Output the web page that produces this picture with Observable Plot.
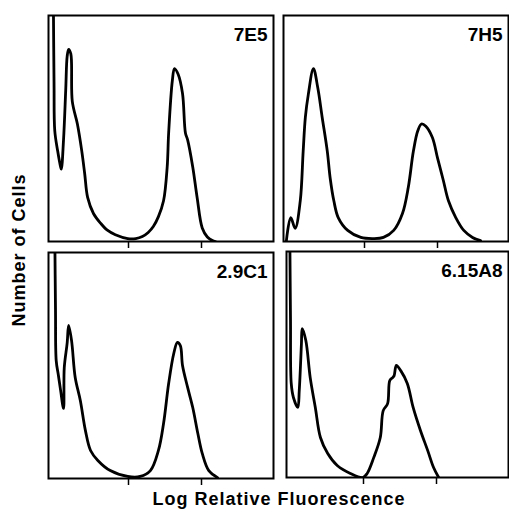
<!DOCTYPE html>
<html><head><meta charset="utf-8">
<script src="https://cdn.jsdelivr.net/npm/d3@7"></script>
<script src="https://cdn.jsdelivr.net/npm/@observablehq/plot@0.6"></script>
<style>
html,body{margin:0;padding:0;background:#fff;}
#chart{position:relative;width:509px;height:514px;overflow:hidden;font-family:"Liberation Sans",Arial,Helvetica,sans-serif;color:#000;}
.panel{position:absolute;}
.ytitle{position:absolute;left:19px;top:250px;transform:translate(-50%,-50%) rotate(-90deg);font-weight:bold;font-size:18px;letter-spacing:1px;white-space:nowrap;line-height:18px;}
.xtitle{position:absolute;left:279px;top:490px;transform:translateX(-50%);font-weight:bold;font-size:18px;letter-spacing:1px;white-space:nowrap;line-height:18px;}
</style>
</head><body>
<div id="chart"></div>
<script>
// ---- data (x = log relative fluorescence, decades; y = relative number of cells, % of full scale) ----
const panelLabels = ["7E5", "7H5", "2.9C1", "6.15A8"];
const xTicks = [1, 2];
const yTitle = "Number of Cells";
const xTitle = "Log Relative Fluorescence";

const hist7E5 = [[-0.03,110],[-0.02,70],[-0.01,49],[0.03,40],[0.07,33],[0.08,32],[0.11,45],[0.14,67],[0.16,82],[0.18,85],[0.21,83],[0.23,62],[0.30,52],[0.36,40],[0.40,30],[0.44,19.5],[0.52,12.4],[0.62,8],[0.71,5],[0.82,3],[0.99,1.3],[1.10,1.3],[1.19,2.2],[1.27,4],[1.34,6.6],[1.41,11],[1.48,18],[1.53,33],[1.55,48],[1.60,71],[1.63,76.5],[1.68,74],[1.74,65.5],[1.78,48],[1.81,45],[1.88,33],[1.94,19.5],[2.01,6],[2.08,2],[2.15,0.4],[2.19,0]];
const hist7H5 = [[-0.07,0.4],[-0.01,10.6],[0.05,5.8],[0.12,18],[0.16,40],[0.19,55],[0.23,65],[0.30,76.5],[0.36,68],[0.42,55],[0.49,40],[0.53,28],[0.58,18],[0.64,10.6],[0.77,4.9],[0.95,1.8],[1.12,1.3],[1.26,1.8],[1.40,4.9],[1.52,12.4],[1.60,24],[1.67,40],[1.73,49],[1.78,52],[1.84,51],[1.93,46],[2.00,37],[2.08,27],[2.15,18],[2.25,10.6],[2.36,4.9],[2.48,1.8],[2.59,0.4]];
const hist2_9C1 = [[-0.01,110],[0.0,75],[0.01,52],[0.04,45.6],[0.07,39],[0.11,31],[0.12,49],[0.16,60],[0.18,67.7],[0.22,61],[0.27,44.7],[0.34,34.5],[0.41,21.2],[0.48,12.4],[0.58,8],[0.75,3.5],[0.99,0.9],[1.16,0.9],[1.30,3.5],[1.41,12.4],[1.48,24.3],[1.55,42],[1.62,55.3],[1.67,60.2],[1.71,58.8],[1.74,50],[1.81,40.3],[1.88,31.4],[1.95,19.9],[2.01,11.1],[2.10,3.5],[2.22,0.4]];
const hist6_15A8 = [[-0.01,110],[0.0,70],[0.01,41.6],[0.04,35.4],[0.10,31],[0.12,38.5],[0.15,59.3],[0.16,65.9],[0.21,60.6],[0.27,44.2],[0.34,31],[0.41,17.7],[0.51,10.6],[0.64,5.3],[0.82,1.8],[0.99,0],[1.05,1.8],[1.14,8.8],[1.23,17.7],[1.27,29.6],[1.33,32.7],[1.36,42.9],[1.40,44.2],[1.42,45.1],[1.45,49.6],[1.51,47.3],[1.60,41.6],[1.68,31],[1.78,20.8],[1.88,11.9],[1.96,4.4],[2.03,0]];

// ---- layout ----
const DECADE = 73; // px per decade
const boxes = [
  {left: 48,  top: 15,  width: 225, height: 226, zero: 55},
  {left: 283, top: 15,  width: 225, height: 226, zero: 291},
  {left: 48,  top: 252, width: 225, height: 226, zero: 55},
  {left: 286, top: 251, width: 222, height: 226, zero: 290}
];
const series = [hist7E5, hist7H5, hist2_9C1, hist6_15A8];
const FONT = "'Liberation Sans', Arial, Helvetica, sans-serif";

const chart = document.getElementById("chart");
const m = {l: 2, r: 2, t: 2, b: 10};

series.forEach((data, i) => {
  const b = boxes[i];
  const x0 = (b.left - b.zero) / DECADE;
  const x1 = (b.left + b.width - b.zero) / DECADE;
  const svg = Plot.plot({
    width: b.width + m.l + m.r,
    height: b.height + m.t + m.b,
    marginLeft: m.l, marginRight: m.r, marginTop: m.t, marginBottom: m.b,
    style: {background: "transparent", fontFamily: FONT, overflow: "visible"},
    x: {domain: [x0, x1], label: null},
    y: {domain: [0, 100], axis: null},
    marks: [
      Plot.line(data, {x: d => d[0], y: d => d[1], curve: "catmull-rom", stroke: "#000", strokeWidth: 2.8, strokeLinejoin: "round", clip: true}),
      Plot.frame({stroke: "#000", strokeWidth: 2}),
      Plot.axisX(xTicks, {anchor: "bottom", tickSize: 7, tickFormat: () => "", stroke: "#000", strokeWidth: 1.5}),
      Plot.text([panelLabels[i]], {frameAnchor: "top-right", dx: -6, dy: 12, lineAnchor: "top", fontSize: 19, fontWeight: "bold", fill: "#000", fontFamily: FONT})
    ]
  });
  svg.classList.add("panel");
  svg.style.left = (b.left - m.l) + "px";
  svg.style.top = (b.top - m.t) + "px";
  chart.appendChild(svg);
});

const yt = document.createElement("div");
yt.className = "ytitle"; yt.textContent = yTitle;
chart.appendChild(yt);
const xt = document.createElement("div");
xt.className = "xtitle"; xt.textContent = xTitle;
chart.appendChild(xt);
</script>
</body></html>
